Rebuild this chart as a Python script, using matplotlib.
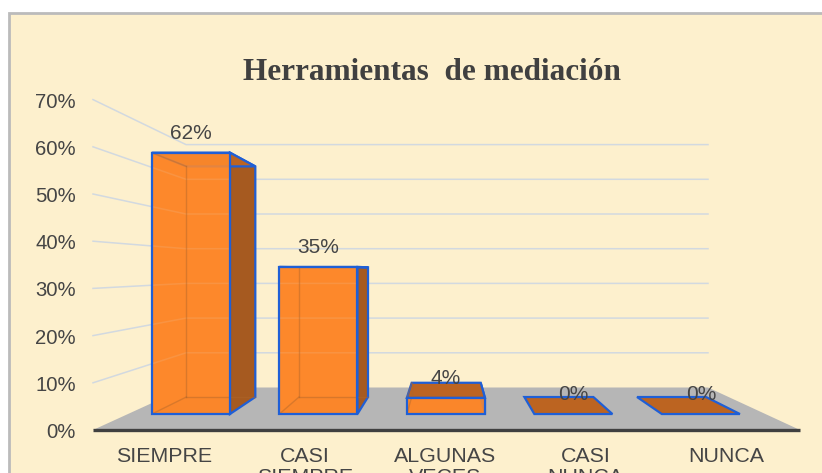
import matplotlib
matplotlib.use("Agg")
import matplotlib.pyplot as plt
from matplotlib.patches import Polygon, Rectangle

title = "Herramientas  de mediación"
categories = ["SIEMPRE", "CASI\nSIEMPRE", "ALGUNAS\nVECES", "CASI\nNUNCA", "NUNCA"]
values = [61.5, 34.6, 3.8, 0.0, 0.0]
y_ticks = [0, 10, 20, 30, 40, 50, 60, 70]

CREAM = "#FDF0CD"
TEXT = "#454545"
EDGE = "#1F5FD6"
FRONT = "#FF8A2C"
SIDE = "#A65A20"
TOP = "#BC6421"
GRID = "#D2D9E0"
FLOOR = "#B6B6B6"

plt.rcParams["font.family"] = "Liberation Sans"
fig = plt.figure(figsize=(8.22, 4.73), dpi=100, facecolor="white")
ax = fig.add_axes([0, 0, 1, 1])
ax.set_xlim(0, 822)
ax.set_ylim(473, 0)
ax.axis("off")


def project(frac, depth, val):
    """Chart space (0-1 across, 0-1 deep, percent up) to picture pixels."""
    left = 93 + 93 * depth
    width = 707 - 185 * depth
    base = 430 - 42.5 * depth
    scale = 4.72 - 1.25 * depth
    return left + frac * width, base - val * scale


ax.add_patch(Rectangle((8.5, 13.5), 830, 480, fc=CREAM, ec="#BBBBBB", lw=2, zorder=0))

# floor
ax.add_patch(Polygon([project(0, 0, 0), project(0, 1, 0), project(1, 1, 0), project(1, 0, 0)],
                     closed=True, fc=FLOOR, ec="none", zorder=1))
# walls
for t in y_ticks:
    if t > 0:
        a, b, c = project(0, 0, t), project(0, 1, t), project(1, 1, t)
        ax.plot([a[0], b[0], c[0]], [a[1], b[1], c[1]], color=GRID, lw=1.1, zorder=2.5)
    ax.text(76, project(0, 0, t)[1] + 2.5, f"{t}%", ha="right", va="center",
            fontsize=14.6, color=TEXT, zorder=6)
a, b = project(0, 0, 0), project(1, 0, 0)
ax.plot([a[0], b[0]], [a[1], b[1]], color="#404040", lw=2.4, solid_capstyle="butt", zorder=5)

# bars
D0, D1 = 0.376, 0.776
W = 0.1225
n = len(values)
for i, v in enumerate(values):
    f0 = i / n + 0.0375
    f1 = f0 + W
    if v > 0:
        # solid orange behind the grid lines, so the translucent front reads evenly
        ax.add_patch(Polygon([project(f0, D0, 0), project(f0, D0, v), project(f1, D0, v), project(f1, D0, 0)],
                             closed=True, fc="#F08026", ec="none", zorder=2))
        # rear faces, seen through the translucent front
        ax.add_patch(Polygon([project(f0, D1, 0), project(f0, D1, v), project(f1, D1, v), project(f1, D1, 0)],
                             closed=True, fc="#F08026", ec="none", zorder=2))
        # bottom
        ax.add_patch(Polygon([project(f0, D0, 0), project(f0, D1, 0), project(f1, D1, 0), project(f1, D0, 0)],
                             closed=True, fc="#D9701F", ec="none", zorder=2.6))
        # side
        ax.add_patch(Polygon([project(f1, D0, 0), project(f1, D1, 0), project(f1, D1, v), project(f1, D0, v)],
                             closed=True, fc=SIDE, ec=EDGE, lw=1.6, joinstyle="miter", zorder=3))
    # top
    ax.add_patch(Polygon([project(f0, D0, v), project(f0, D1, v), project(f1, D1, v), project(f1, D0, v)],
                         closed=True, fc=TOP, ec=EDGE, lw=1.6, joinstyle="miter", zorder=3.1))
    if v > 0:
        # front, translucent so the inner edges and grid lines show faintly
        ax.add_patch(Polygon([project(f0, D0, 0), project(f0, D0, v), project(f1, D0, v), project(f1, D0, 0)],
                             closed=True, fc=FRONT, ec="none", alpha=0.88, zorder=4))
        ax.add_patch(Polygon([project(f0, D0, 0), project(f0, D0, v), project(f1, D0, v), project(f1, D0, 0)],
                             closed=True, fc="none", ec=EDGE, lw=1.6, joinstyle="miter", zorder=4.1))
        # faint rear edges
        for p, q in [((f0, D0, v), (f0, D1, v)), ((f0, D1, v), (f0, D1, 0)),
                     ((f0, D1, 0), (f1, D1, 0)), ((f0, D0, 0), (f0, D1, 0))]:
            P, Q = project(*p), project(*q)
            ax.plot([P[0], Q[0]], [P[1], Q[1]], color="#B0662A", lw=1, alpha=0.45, zorder=4.05)
    lx, ly = project((f0 + f1) / 2, D0, v)
    ax.text(lx, ly - 19.5, f"{v:.0f}%", ha="center", va="center", fontsize=15, color=TEXT, zorder=7)

for i, c in enumerate(categories):
    x = project((i + 0.5) / n * 0.9935, 0, 0)[0] + 1
    ax.text(x, 446.5, c, ha="center", va="top", fontsize=15.4, color=TEXT,
            linespacing=1.17, zorder=6)

ax.text(432, 72, title, ha="center", va="center", family="Liberation Serif",
        fontweight="bold", fontsize=22.5, color="#404040", zorder=6)

fig.savefig("out.png", dpi=100, facecolor="white")
